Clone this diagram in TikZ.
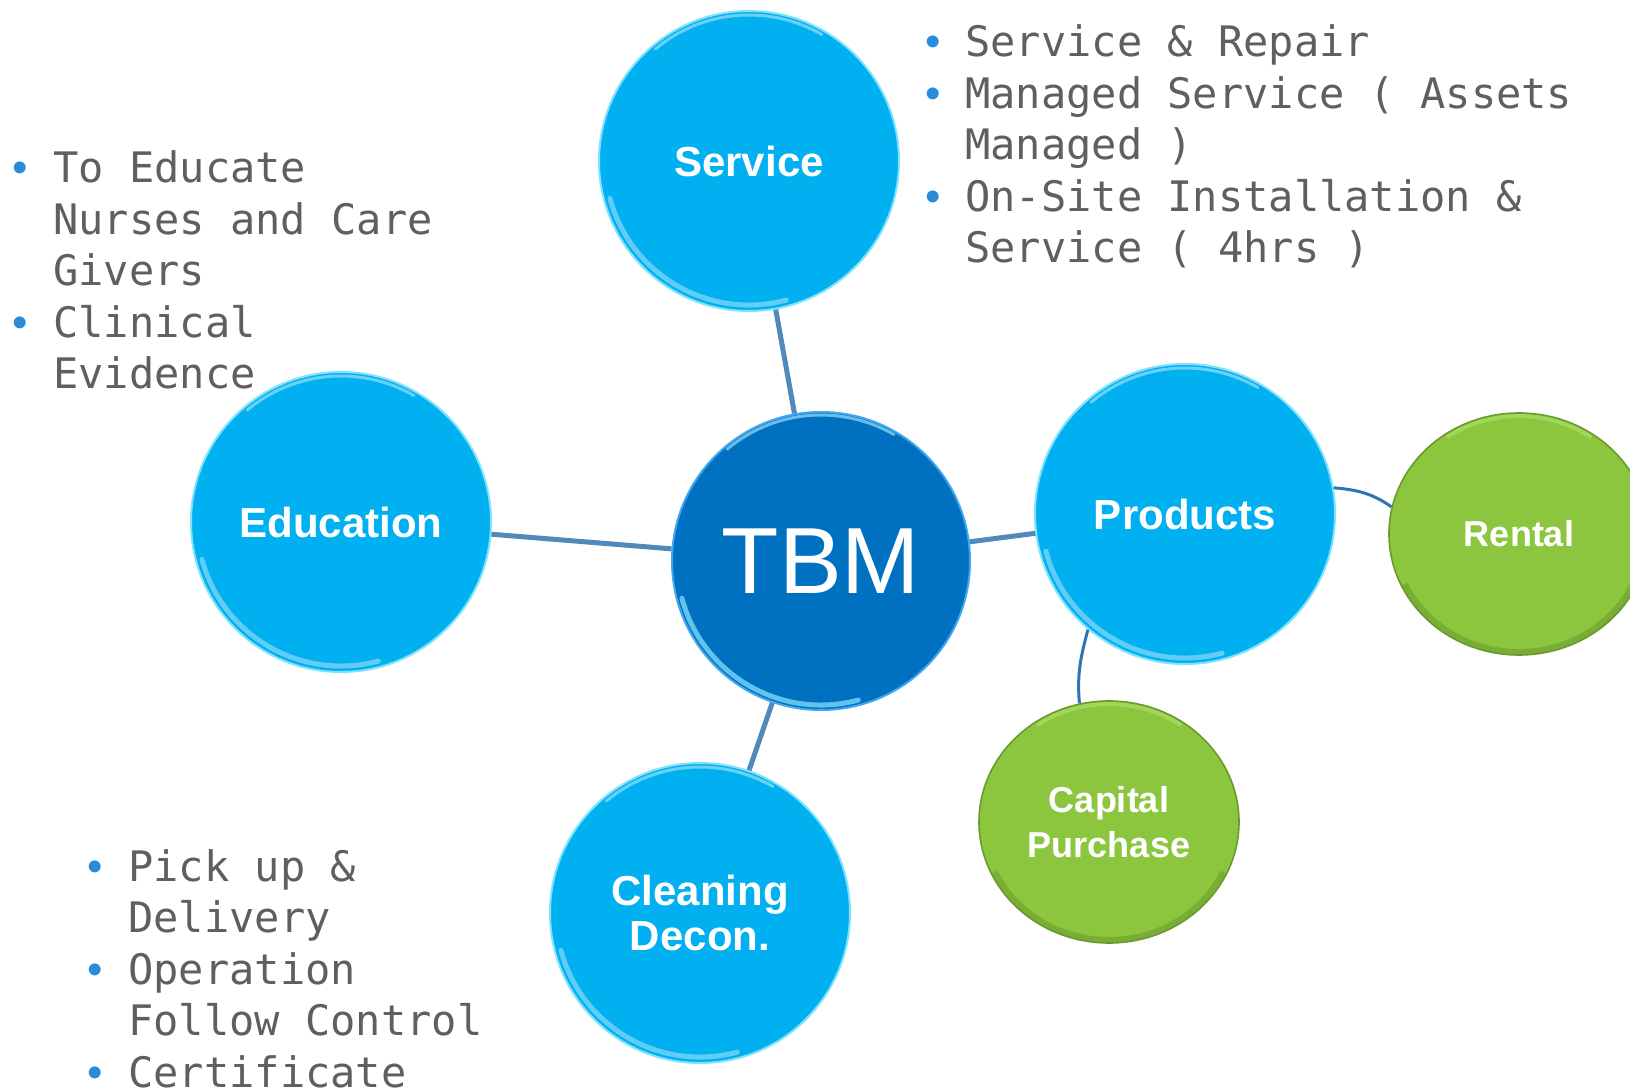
\documentclass[tikz,border=0pt]{standalone}
\usepackage{fontspec}
\setmainfont{Liberation Sans}
\newfontfamily\ocrfont{DejaVu Sans Mono}
\usetikzlibrary{shapes.geometric}

\definecolor{skyblue}{HTML}{00B0F0}
\definecolor{rimcyan}{HTML}{7FE3FF}
\definecolor{deepblue}{HTML}{0070C0}
\definecolor{deeprim}{HTML}{3FA6F0}
\definecolor{leafgreen}{HTML}{8CC63F}
\definecolor{leafdark}{HTML}{6A9A2C}
\definecolor{leaflight}{HTML}{A8DA62}
\definecolor{linkblue}{HTML}{5089BA}
\definecolor{curveblue}{HTML}{2E75B6}
\definecolor{dotblue}{HTML}{2A8CD9}
\definecolor{notegray}{HTML}{5F5F5F}

\newcommand{\bul}{\llap{{\color{dotblue}\normalfont\fontsize{22pt}{22pt}\selectfont\textbullet}\hspace{12.5pt}}}

\tikzset{
  bubble/.style={circle, minimum size=150pt, inner sep=0pt, fill=skyblue,
    draw=rimcyan, line width=1pt, text=white, align=center,
    font=\bfseries\fontsize{21pt}{22.5pt}\selectfont,
    path picture={
      \draw[white!45!cyan, line width=2.5pt, line cap=round, opacity=.85]
        (path picture bounding box.center) ++(195:72pt)
        arc[start angle=195, end angle=285, radius=72pt];
      \draw[white!60!skyblue, line width=1.5pt, line cap=round, opacity=.7]
        (path picture bounding box.center) ++(60:73pt)
        arc[start angle=60, end angle=130, radius=73pt];
    }},
  core/.style={fill=deepblue, draw=deeprim, minimum size=149pt,
    font=\fontsize{47pt}{50pt}\selectfont},
  pod/.style={ellipse, minimum width=130pt, minimum height=121pt, inner sep=0pt,
    fill=leafgreen, draw=leafdark, line width=.8pt, text=white, align=center,
    font=\bfseries\fontsize{18pt}{22.5pt}\selectfont,
    path picture={
      \draw[leafdark, line width=3pt, opacity=.55]
        (path picture bounding box.center) ++(205:63pt and 59pt)
        arc[start angle=205, end angle=335, x radius=63pt, y radius=59pt];
      \draw[leaflight, line width=2pt, opacity=.8]
        (path picture bounding box.center) ++(55:63pt and 59pt)
        arc[start angle=55, end angle=125, x radius=63pt, y radius=59pt];
    }},
  link/.style={draw=linkblue, line width=2.5pt},
  branch/.style={draw=curveblue, line width=1.5pt},
  note/.style={inner sep=0pt, align=left, text=notegray,
    font=\ocrfont\fontsize{21pt}{25.75pt}\selectfont}
}

\begin{document}
\begin{tikzpicture}[x=0.5pt, y=0.5pt]
  \useasboundingbox (0,0) rectangle (1630,1089);

  % the hub and its four topics
  \node[bubble, core] (tbm) at (821,528) {TBM};
  \node[bubble] (service) at (749,928) {Service};
  \node[bubble] (education) at (341,567) {Education};
  \node[bubble] (products) at (1185,575) {Products};
  \node[bubble] (cleaning) at (700,176) {Cleaning\\Decon.};

  % product options
  \node[pod] (rental) at (1519,555) {Rental};
  \node[pod] (capital) at (1109,267) {Capital\\Purchase};

  \draw[link] (service) -- (tbm);
  \draw[link] (education) -- (tbm);
  \draw[link] (tbm) -- (products);
  \draw[link] (tbm) -- (cleaning);
  \draw[branch] (products.10) to[out=-5, in=145] (rental.168);
  \draw[branch] (products.230) to[out=255, in=95] (capital.104);

  % bullet notes (base = last line)
  \node[note, anchor=base west] (servicenotes) at (965,826)
    {\bul Service \& Repair\\ \bul Managed Service ( Assets\\ Managed )\\
     \bul On-Site Installation \&\\ Service ( 4hrs )};
  \node[note, anchor=base west] (educationnotes) at (53,700)
    {\bul To Educate\\ Nurses and Care\\ Givers\\ \bul Clinical\\ Evidence};
  \node[note, anchor=base west] (cleaningnotes) at (128,2)
    {\bul Pick up \&\\ Delivery\\ \bul Operation\\ Follow Control\\ \bul Certificate};
\end{tikzpicture}
\end{document}
